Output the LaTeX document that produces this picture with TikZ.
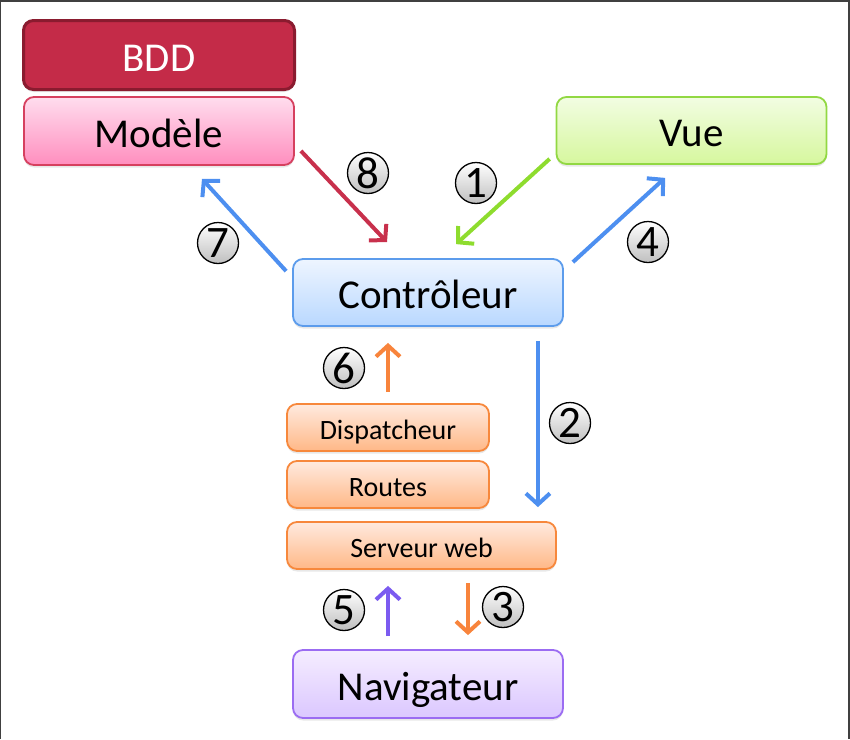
\documentclass[tikz,border=0pt]{standalone}
\usepackage{fontspec}
\setmainfont{Carlito}
\usepackage{tikz}
\usetikzlibrary{positioning,calc,shadows,arrows.meta}

\definecolor{bddfill}{HTML}{C42B48}
\definecolor{bddline}{HTML}{8A1B2F}
\definecolor{modtop}{HTML}{FFDDEE}
\definecolor{modbot}{HTML}{FF8EBE}
\definecolor{modline}{HTML}{D6405F}
\definecolor{vuetop}{HTML}{F2FDE2}
\definecolor{vuebot}{HTML}{D6F79E}
\definecolor{vueline}{HTML}{92D843}
\definecolor{ctltop}{HTML}{EEF5FF}
\definecolor{ctlbot}{HTML}{B9D8FF}
\definecolor{ctlline}{HTML}{5C9CEC}
\definecolor{orgtop}{HTML}{FFEADF}
\definecolor{orgbot}{HTML}{FFB887}
\definecolor{orgline}{HTML}{F7883C}
\definecolor{navtop}{HTML}{F5EDFF}
\definecolor{navbot}{HTML}{DBC7FF}
\definecolor{navline}{HTML}{9B6CF2}
\definecolor{arrred}{HTML}{C8304C}
\definecolor{arrblue}{HTML}{4D8FF0}
\definecolor{arrgreen}{HTML}{8EDC2E}
\definecolor{arrorange}{HTML}{F8843C}
\definecolor{arrpurple}{HTML}{7B5BF0}

\tikzset{
    box/.style={rounded corners=10pt, line width=1.8pt, inner sep=0pt,
        font=\fontsize{41}{44}\selectfont, text height=40pt, text depth=8pt,
        drop shadow={shadow xshift=0pt, shadow yshift=-2.5pt, opacity=0.18}},
    bigbox/.style={box, minimum width=270pt, minimum height=68pt},
    smallbox/.style={box, draw=orgline, top color=orgtop, bottom color=orgbot,
        minimum height=47pt, font=\fontsize{28}{30}\selectfont, text height=29pt, text depth=6pt},
    num/.style={circle, draw=black, line width=1.3pt, minimum size=41pt, inner sep=0pt,
        top color=white, bottom color=black!25, font=\fontsize{45}{46}\selectfont},
    arr/.style={line width=4pt, -{Straight Barb[length=11pt, width=24pt, line width=4pt]}},
}

\begin{document}
\begin{tikzpicture}[x=1pt, y=-1pt]
    \useasboundingbox (0,0) rectangle (850,739);
    \draw[black!75, line width=2pt] (0,739) -- (0,0.5) -- (848.5,0.5) -- (848.5,739);

    % boxes
    \node[bigbox, draw=bddline, line width=3pt, fill=bddfill, text=white, minimum width=271pt, minimum height=69pt] (bdd) at (159,55) {BDD};
    \node[bigbox, draw=modline, top color=modtop, bottom color=modbot] (modele) at (159,131) {Modèle};
    \node[bigbox, draw=vueline, top color=vuetop, bottom color=vuebot, minimum height=67pt] (vue) at (691.5,130.5) {Vue};
    \node[bigbox, draw=ctlline, top color=ctltop, bottom color=ctlbot, minimum height=67pt] (ctrl) at (428,292.5) {Contrôleur};
    \node[smallbox, minimum width=202pt] (disp) at (388,427.5) {Dispatcheur};
    \node[smallbox, minimum width=202pt] (routes) at (388,484.5) {Routes};
    \node[smallbox, minimum width=269pt] (srv) at (421.5,545.5) {Serveur web};
    \node[bigbox, draw=navline, top color=navtop, bottom color=navbot] (nav) at (428,684) {Navigateur};

    % arrows
    \draw[arr, arrred] ($(modele.south east)+(6,-15)$) -- ($(ctrl.north)+(-41,-16)$);
    \draw[arr, arrblue] ($(ctrl.north west)+(-6,13)$) -- ($(modele.south)+(43,13)$);
    \draw[arr, arrgreen] ($(vue.south west)+(-6,-6)$) -- ($(ctrl.north)+(28,-14)$);
    \draw[arr, arrblue] ($(ctrl.north east)+(9,4)$) -- ($(vue.south)+(-26.5,13)$);
    \draw[arr, arrorange, shorten <=11pt, shorten >=16pt] (disp.north) -- (disp.north |- ctrl.south);
    \coordinate (c2) at ($(srv.north east)+(-19,0)$);
    \draw[arr, arrblue, shorten <=14pt, shorten >=14pt] (c2 |- ctrl.south) -- (c2);
    \draw[arr, arrpurple, shorten <=13pt, shorten >=16pt] (disp.south |- nav.north) -- (disp.south |- srv.south);
    \coordinate (c3) at ($(srv.south)+(46.5,0)$);
    \draw[arr, arrorange, shorten <=13pt, shorten >=14pt] (c3) -- (c3 |- nav.north);

    % step numbers
    \foreach \n/\x/\y in {1/476/183, 2/570/423, 3/503/607, 4/648/242, 5/344/610, 6/344/368, 7/218/243, 8/368/173} {
        \node[num] (n\n) at (\x,\y) {\n};
    }
\end{tikzpicture}
\end{document}
